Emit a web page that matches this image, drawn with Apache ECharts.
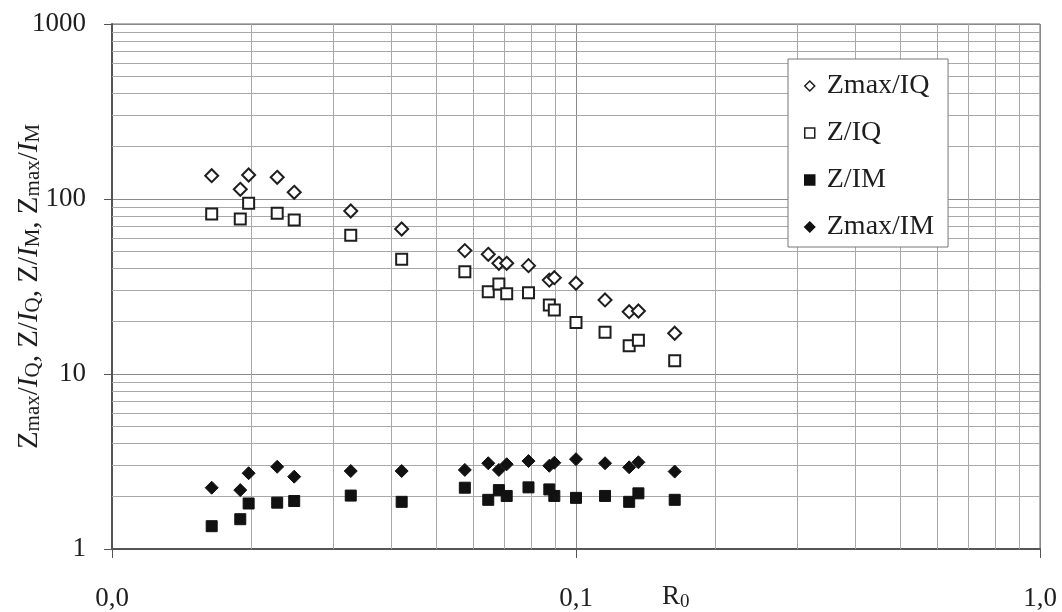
<!DOCTYPE html>
<html>
<head>
<meta charset="utf-8">
<title>Z / I vs R0</title>
<script src="https://cdn.jsdelivr.net/npm/echarts@6/dist/echarts.min.js"></script>
<style>
  html, body { margin: 0; padding: 0; background: #fff; }
  #main { width: 1062px; height: 612px; }
</style>
</head>
<body>
<div id="main"></div>
<script>
// R0 values (x)
var r0 = [0.0164, 0.0189, 0.0197, 0.0227, 0.0247, 0.0327, 0.0421, 0.0576, 0.0647, 0.0682,
          0.0709, 0.0790, 0.0876, 0.0898, 0.100, 0.1155, 0.1302, 0.1363, 0.1632];

// series values
var zmaxIQ = [135.9, 113.6, 137.1, 133.0, 109.2, 85.4, 67.4, 50.7, 48.3, 42.9,
              42.9, 41.6, 34.4, 35.5, 33.0, 26.5, 22.7, 22.9, 17.1];
var zIQ    = [82.1, 76.9, 94.5, 82.9, 75.9, 62.0, 45.2, 38.4, 29.5, 32.7,
              28.7, 29.1, 24.8, 23.2, 19.7, 17.3, 14.5, 15.6, 11.9];
var zIM    = [1.35, 1.48, 1.82, 1.84, 1.88, 2.02, 1.86, 2.24, 1.91, 2.17,
              2.01, 2.25, 2.19, 2.01, 1.96, 2.01, 1.86, 2.08, 1.91];
var zmaxIM = [2.24, 2.17, 2.71, 2.95, 2.59, 2.79, 2.79, 2.83, 3.09, 2.83,
              3.05, 3.18, 2.99, 3.11, 3.26, 3.09, 2.93, 3.13, 2.77];

var seriesNames = ['Zmax/IQ', 'Z/IQ', 'Z/IM', 'Zmax/IM'];

// log grid
var minorSteps = [2, 3, 4, 5, 6, 7, 8, 9];
var xDecades = [0.01, 0.1];
var yDecades = [1, 10, 100];

var serif = 'Liberation Serif';
var ink = '#1e1e1e';

function pairs(ys) {
    var res = [];
    for (var i = 0; i < r0.length; i++) {
        res.push([r0[i], ys[i]]);
    }
    return res;
}

var gridLines = [];
for (var i = 0; i < xDecades.length; i++) {
    for (var j = 0; j < minorSteps.length; j++) {
        gridLines.push({ xAxis: +(xDecades[i] * minorSteps[j]).toFixed(4) });
    }
}
for (var i = 0; i < yDecades.length; i++) {
    for (var j = 0; j < minorSteps.length; j++) {
        gridLines.push({ yAxis: yDecades[i] * minorSteps[j] });
    }
}

var myChart = echarts.init(document.getElementById('main'));
var option = {
    animation: false,
    backgroundColor: '#fff',
    grid: {
        left: 112, right: 22, top: 24, bottom: 63,
        outerBoundsMode: 'none',
        containLabel: false,
        show: true,
        borderColor: '#666',
        borderWidth: 1
    },
    legend: {
        data: seriesNames,
        orient: 'vertical',
        left: 788,
        top: 59,
        padding: [13, 14, 6, 16],
        itemGap: 19,
        itemWidth: 10,
        itemHeight: 10,
        backgroundColor: '#fff',
        borderColor: '#777',
        borderWidth: 1,
        itemStyle: { borderWidth: 1.5 },
        textStyle: {
            fontFamily: serif,
            fontSize: 28,
            color: ink,
            padding: [0, 0, 0, 7]
        }
    },
    xAxis: {
        type: 'log',
        logBase: 10,
        min: 0.01,
        max: 1,
        axisLine: { lineStyle: { color: '#555', width: 2 } },
        axisTick: { show: true, length: 9, lineStyle: { color: '#555' } },
        axisLabel: {
            margin: 36,
            fontFamily: serif,
            fontSize: 27,
            color: ink,
            formatter: function (v) {
                return v.toFixed(1).replace('.', ',');
            }
        },
        splitLine: { show: true, lineStyle: { color: '#8a8a8a', width: 1 } }
    },
    yAxis: {
        type: 'log',
        logBase: 10,
        min: 1,
        max: 1000,
        axisLine: { show: true, lineStyle: { color: '#555', width: 2 } },
        axisTick: { show: true, length: 8, lineStyle: { color: '#555' } },
        axisLabel: {
            margin: 26,
            fontFamily: serif,
            fontSize: 27,
            color: ink,
            formatter: function (v) {
                return String(Math.round(v));
            }
        },
        splitLine: { show: true, lineStyle: { color: '#8a8a8a', width: 1 } },
        name: '{z|Z}{s|max}{z|/}{i|I}{s|Q}{z|, Z/}{i|I}{s|Q}{z|, Z/}{i|I}{s|M}{z|, Z}{s|max}{z|/}{i|I}{s|M}',
        nameLocation: 'middle',
        nameGap: 68,
        nameRotate: 90,
        nameMoveOverlap: false,
        nameTextStyle: {
            rich: {
                z: { fontFamily: serif, fontSize: 29, lineHeight: 30, color: ink },
                i: { fontFamily: serif, fontSize: 29, lineHeight: 30, fontStyle: 'italic', color: ink },
                s: { fontFamily: serif, fontSize: 21, lineHeight: 20, verticalAlign: 'bottom', color: ink }
            }
        }
    },
    graphic: [{
        type: 'text',
        left: 662,
        top: 583,
        style: {
            text: '{r|R}{s|0}',
            rich: {
                r: { fontFamily: serif, fontSize: 27, lineHeight: 30, fill: ink },
                s: { fontFamily: serif, fontSize: 19, lineHeight: 20, verticalAlign: 'bottom', fill: ink }
            }
        }
    }],
    series: [
        {
            name: 'grid',
            type: 'line',
            data: [],
            markLine: {
                silent: true,
                symbol: 'none',
                z: 1,
                label: { show: false },
                lineStyle: { color: '#a8a8a8', width: 1, type: 'solid' },
                emphasis: { disabled: true },
                data: gridLines
            }
        },
        {
            name: seriesNames[0],
            type: 'scatter',
            symbol: 'diamond',
            symbolSize: 13,
            z: 3,
            itemStyle: { color: '#fff', borderColor: ink, borderWidth: 2, opacity: 1 },
            emphasis: { disabled: true },
            data: pairs(zmaxIQ)
        },
        {
            name: seriesNames[1],
            type: 'scatter',
            symbol: 'rect',
            symbolSize: 11,
            z: 3,
            itemStyle: { color: '#fff', borderColor: ink, borderWidth: 2, opacity: 1 },
            emphasis: { disabled: true },
            data: pairs(zIQ)
        },
        {
            name: seriesNames[2],
            type: 'scatter',
            symbol: 'rect',
            symbolSize: 11,
            z: 3,
            itemStyle: { color: '#111', borderColor: '#111', borderWidth: 1, opacity: 1 },
            emphasis: { disabled: true },
            data: pairs(zIM)
        },
        {
            name: seriesNames[3],
            type: 'scatter',
            symbol: 'diamond',
            symbolSize: 13,
            z: 3,
            itemStyle: { color: '#111', borderColor: '#111', borderWidth: 1, opacity: 1 },
            emphasis: { disabled: true },
            data: pairs(zmaxIM)
        }
    ]
};
myChart.setOption(option);
</script>
</body>
</html>
